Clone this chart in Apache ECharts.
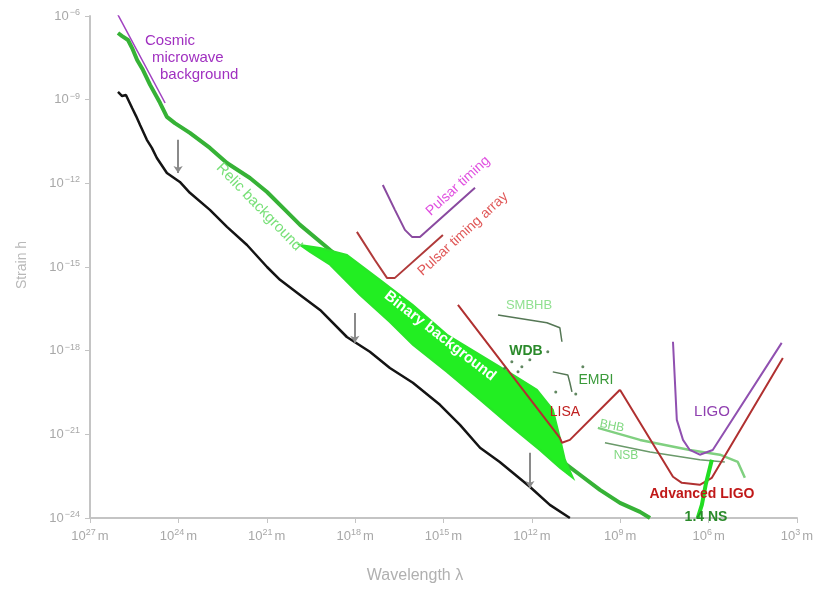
<!DOCTYPE html>
<html>
<head>
<meta charset="utf-8">
<script src="https://cdn.jsdelivr.net/npm/echarts@6/dist/echarts.min.js"></script>
<style>
  html, body { margin: 0; padding: 0; background: #fff; }
  #main { width: 829px; height: 593px; }
</style>
</head>
<body>
<div id="main"></div>
<script>
// all values are log10: x = log10(wavelength / m), y = log10(strain h)
var xTicks = [27, 24, 21, 18, 15, 12, 9, 6, 3];
var yTicks = [-6, -9, -12, -15, -18, -21, -24];

var cmb = [[26.05, -5.96], [24.45, -9.12]];

var relic = [
  [26.05, -6.61], [25.91, -6.72], [25.71, -6.86], [25.57, -7.15], [25.40, -7.58],
  [25.20, -7.94], [24.96, -8.47], [24.62, -9.12], [24.39, -9.62], [24.12, -9.84],
  [23.61, -10.19], [22.93, -10.73], [22.35, -11.27], [21.57, -11.81], [20.99, -12.31],
  [20.38, -12.95], [19.87, -13.49], [18.85, -14.39], [17.84, -15.28], [16.48, -16.54],
  [14.78, -18.15], [13.09, -19.76], [11.73, -21.20], [10.95, -21.99], [10.37, -22.45],
  [9.69, -22.99], [9.01, -23.46], [8.33, -23.78], [7.99, -24.0]
];

var remnant = [
  [26.05, -8.72], [25.91, -8.87], [25.78, -8.83], [25.57, -9.30], [25.44, -9.58],
  [25.30, -9.91], [25.07, -10.44], [24.90, -10.73], [24.73, -11.09], [24.39, -11.63],
  [23.95, -11.95], [23.61, -12.34], [22.93, -12.95], [22.35, -13.56], [21.67, -14.21],
  [20.99, -15.00], [20.55, -15.46], [19.87, -16.00], [19.19, -16.54], [18.28, -17.51],
  [17.50, -18.04], [16.82, -18.62], [16.04, -19.15], [15.12, -19.94], [14.44, -20.66],
  [13.76, -21.48], [13.09, -21.99], [12.07, -22.88], [11.39, -23.53], [10.71, -24.0]
];

var binaryUpper = [
  [19.87, -14.21], [19.19, -14.32], [18.28, -14.57], [17.16, -15.46], [16.04, -16.36],
  [14.88, -17.43], [13.76, -18.15], [12.64, -18.87], [11.83, -19.40], [11.29, -20.12],
  [11.05, -21.13], [10.88, -21.91], [10.61, -22.56]
];
var binaryLower = [
  [11.05, -22.20], [11.73, -21.56], [12.64, -20.77], [13.76, -19.76], [14.88, -18.76],
  [16.04, -17.79], [16.82, -16.97], [17.84, -16.00], [18.85, -14.92], [19.53, -14.46]
];

var pulsarTiming = [[17.06, -12.06], [16.65, -12.95], [16.31, -13.67], [16.07, -13.92], [15.80, -13.92], [13.93, -12.16]];
var pulsarArray = [[17.94, -13.74], [17.33, -14.75], [16.92, -15.39], [16.65, -15.39], [15.02, -13.85]];
var lisa = [[14.51, -16.36], [11.05, -21.13], [10.98, -21.30], [10.71, -21.20], [9.01, -19.40]];
var advLigo = [[9.01, -19.40], [7.21, -22.52], [6.91, -22.74], [6.30, -22.81], [5.89, -22.56], [3.48, -18.26]];
var ligo = [[7.21, -17.68], [7.08, -20.48], [6.87, -21.20], [6.64, -21.56], [6.30, -21.73], [5.86, -21.56], [3.52, -17.72]];

var smbhb = [[13.15, -16.72], [11.49, -17.00], [11.05, -17.18], [10.98, -17.68]];
var emri = [[11.29, -18.76], [10.78, -18.87], [10.71, -19.15], [10.64, -19.48]];
var sourceDots = [
  [12.92, -18.62], [12.68, -18.40], [12.34, -18.58], [12.07, -18.33], [12.47, -18.76],
  [11.46, -18.04], [10.27, -18.58], [10.51, -19.55], [11.19, -19.48]
];
var bhb = [[9.76, -20.77], [8.33, -21.20], [6.64, -21.56], [5.62, -21.73], [5.01, -21.99], [4.77, -22.56]];
var nsb = [[9.52, -21.30], [7.99, -21.63], [6.30, -21.91], [5.45, -21.99]];
var ns14 = [[5.89, -21.91], [6.10, -22.81], [6.23, -23.53], [6.37, -24.0]];

// shifts from relic to present-day (x, y from, y to)
var arrows = [[24.01, -10.44, -11.63], [18.01, -16.65, -17.72], [12.07, -21.66, -22.92]];

function sup(v) {
  return String(v).replace('-', '\u2212');
}

function line(name, data, color, width, z) {
  return {
    name: name, type: 'line', data: data, showSymbol: false, silent: true,
    lineStyle: { color: color, width: width }, z: z || 3
  };
}

var chart = echarts.init(document.getElementById('main'), null, { renderer: 'canvas' });

function txt(x, y, text, color, size, rot, weight, align) {
  return {
    type: 'text', x: x, y: y, rotation: rot || 0, z: 100, silent: true,
    style: {
      text: text, fill: color, align: align || 'center', verticalAlign: 'middle',
      textAlign: align || 'center', textVerticalAlign: 'middle',
      font: (weight || 'normal') + ' ' + size + 'px "Liberation Sans", Arial, sans-serif'
    }
  };
}

chart.setOption({
  backgroundColor: '#fff',
  animation: false,
  grid: { left: 90, right: 32, top: 16, bottom: 75, outerBoundsMode: 'none' },
  xAxis: {
    type: 'value', inverse: true, min: 3, max: 27, interval: 3,
    splitLine: { show: false },
    axisLine: { show: true, lineStyle: { color: '#c4c4c4', width: 2 } },
    axisTick: { show: true, length: 5, lineStyle: { color: '#c4c4c4' } },
    axisLabel: {
      margin: 10, color: '#a8a8a8', fontSize: 13,
      formatter: function (v) { return '10{s|' + sup(v) + '}m'; },
      rich: { s: { fontSize: 9, color: '#a8a8a8', verticalAlign: 'bottom', padding: [0, 2, 7, 0] } }
    }
  },
  yAxis: {
    type: 'value', min: -24, max: -6, interval: 3,
    splitLine: { show: false },
    axisLine: { show: true, lineStyle: { color: '#c4c4c4', width: 2 } },
    axisTick: { show: true, length: 5, lineStyle: { color: '#c4c4c4' } },
    axisLabel: {
      margin: 10, color: '#a8a8a8', fontSize: 13,
      formatter: function (v) { return '10{s|' + sup(v) + '}'; },
      rich: { s: { fontSize: 9, color: '#a8a8a8', verticalAlign: 'bottom', padding: [0, 0, 7, 1] } }
    }
  },
  series: [
    {
      type: 'custom', silent: true, z: 4,
      data: [binaryUpper[0]],
      renderItem: function (params, api) {
        var pts = binaryUpper.concat(binaryLower).map(function (p) { return api.coord(p); });
        return { type: 'polygon', shape: { points: pts }, style: { fill: '#22ee22', stroke: '#2ae42a', lineWidth: 2 } };
      }
    },
    line('relic', relic, '#36b236', 4, 3),
    line('remnant', remnant, '#141414', 2.5, 3),
    line('cmb', cmb, '#a040c0', 1.5),
    line('pulsar timing', pulsarTiming, '#8a4aa0', 2),
    line('pulsar timing array', pulsarArray, '#b03a3a', 2, 5),
    line('LISA', lisa, '#b03030', 2, 5),
    line('Advanced LIGO', advLigo, '#b03030', 2, 5),
    line('LIGO', ligo, '#9050b0', 2, 5),
    line('SMBHB', smbhb, '#557755', 1.5),
    line('EMRI', emri, '#557755', 1.5),
    line('BHB', bhb, '#80d080', 2.5),
    line('NSB', nsb, '#6a9a6a', 1.5),
    line('1.4 NS', ns14, '#22dd22', 4, 6),
    {
      type: 'scatter', data: sourceDots, symbolSize: 3, silent: true,
      itemStyle: { color: '#3a6a3a' }, z: 6
    },
    {
      type: 'line', data: [], silent: true,
      markLine: {
        silent: true, symbol: ['none', 'arrow'], symbolSize: 7, animation: false,
        label: { show: false },
        lineStyle: { color: '#8a8a8a', width: 2, type: 'solid' },
        data: arrows.map(function (a) { return [{ coord: [a[0], a[1]] }, { coord: [a[0], a[2]] }]; })
      }
    }
  ],
  graphic: [
    txt(22, 265, 'Strain h', '#b8b8b8', 14, Math.PI / 2),
    txt(415, 576, 'Wavelength \u03bb', '#b0b0b0', 16),
    txt(145, 41, 'Cosmic', '#a030c0', 15, 0, 'normal', 'left'),
    txt(152, 58, 'microwave', '#a030c0', 15, 0, 'normal', 'left'),
    txt(160, 75, 'background', '#a030c0', 15, 0, 'normal', 'left'),
    txt(259, 207, 'Relic background', '#78e078', 15, -0.8),
    txt(440, 336, 'Binary background', '#ffffff', 15, -0.66, 'bold'),
    txt(458, 186, 'Pulsar timing', '#e050e0', 14, 0.74),
    txt(463, 234, 'Pulsar timing array', '#e05858', 14, 0.74),
    txt(529, 305, 'SMBHB', '#90e090', 13),
    txt(526, 351, 'WDB', '#2a8a2a', 14, 0, 'bold'),
    txt(596, 380, 'EMRI', '#3a9a3a', 14),
    txt(565, 412, 'LISA', '#c02020', 14),
    txt(612, 426, 'BHB', '#80d880', 12, -0.2),
    txt(626, 456, 'NSB', '#80d880', 12),
    txt(712, 412, 'LIGO', '#9040b0', 15),
    txt(702, 494, 'Advanced LIGO', '#c01818', 14, 0, 'bold'),
    txt(706, 517, '1.4 NS', '#2a8a2a', 14, 0, 'bold')
  ]
});
</script>
</body>
</html>
